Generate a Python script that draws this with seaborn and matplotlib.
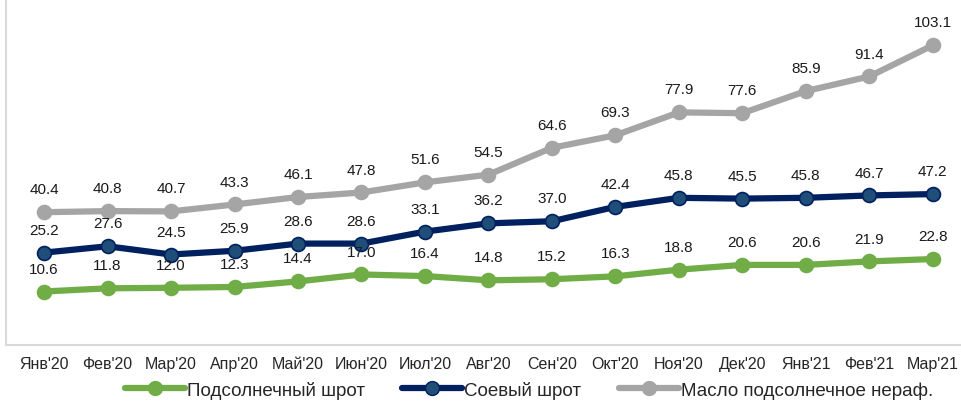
import matplotlib
matplotlib.use("Agg")
import matplotlib.pyplot as plt
import seaborn as sns
import pandas as pd
from matplotlib import font_manager

months = ["Янв'20", "Фев'20", "Мар'20", "Апр'20", "Май'20", "Июн'20", "Июл'20", "Авг'20",
          "Сен'20", "Окт'20", "Ноя'20", "Дек'20", "Янв'21", "Фев'21", "Мар'21"]
sunflower_meal = [10.6, 11.8, 12.0, 12.3, 14.4, 17.0, 16.4, 14.8, 15.2, 16.3, 18.8, 20.6, 20.6, 21.9, 22.8]
soy_meal = [25.2, 27.6, 24.5, 25.9, 28.6, 28.6, 33.1, 36.2, 37.0, 42.4, 45.8, 45.5, 45.8, 46.7, 47.2]
sunflower_oil = [40.4, 40.8, 40.7, 43.3, 46.1, 47.8, 51.6, 54.5, 64.6, 69.3, 77.9, 77.6, 85.9, 91.4, 103.1]
series_names = ["Подсолнечный шрот", "Соевый шрот", "Масло подсолнечное нераф."]

sns.set_theme(style="white")
names = {f.name for f in font_manager.fontManager.ttflist}
narrow = "Liberation Sans Narrow" if "Liberation Sans Narrow" in names else "Liberation Sans"
plt.rcParams['font.family'] = ['Liberation Sans', 'DejaVu Sans']

rows = []
for name, vals in zip(series_names, [sunflower_meal, soy_meal, sunflower_oil]):
    for i, (m, v) in enumerate(zip(months, vals)):
        rows.append({"idx": i, "month": m, "value": v, "series": name})
df = pd.DataFrame(rows)

colors = {series_names[0]: "#70AD47", series_names[1]: "#002060", series_names[2]: "#A5A5A5"}
mfc = {series_names[0]: "#70AD47", series_names[1]: "#1F4E79", series_names[2]: "#A5A5A5"}

fig = plt.figure(figsize=(9.62, 4.02), dpi=100)
ax = fig.add_axes([6/962, (402-346)/402, (962-6)/962, 346/402])

handles = []
for name in series_names:
    sub = df[df.series == name]
    sns.lineplot(data=sub, x="idx", y="value", ax=ax, color=colors[name], lw=4.5,
                 marker="o", markersize=10, markerfacecolor=mfc[name],
                 markeredgecolor=colors[name], markeredgewidth=1.2, legend=False)
    for i, v in zip(sub.idx, sub.value):
        ax.annotate(f"{v:.1f}", (i, v), xytext=(0, 16.5), textcoords="offset points",
                    ha="center", va="center", fontsize=11, color="#1a1a1a")
    h, = ax.plot([], [], color=colors[name], lw=4.5, marker="o", markersize=10,
                 markerfacecolor=mfc[name], markeredgecolor=colors[name])
    handles.append(h)

ax.set_xlim(-0.6, 14.46)
ax.set_ylim(-9.5, 120.5)
ax.set_xticks(range(len(months)))
ax.set_xticklabels(months, fontsize=11.5, family=[narrow, 'DejaVu Sans'])
ax.tick_params(axis='x', length=0, pad=8)
ax.set_yticks([])
ax.set_xlabel("")
ax.set_ylabel("")
for s in ["top", "right"]:
    ax.spines[s].set_visible(False)
ax.spines["bottom"].set_color("#D9D9D9")
ax.spines["bottom"].set_linewidth(1.5)
ax.spines["left"].set_color("#D9D9D9")
ax.spines["left"].set_linewidth(1.5)

fig.legend(handles, series_names, loc="center", bbox_to_anchor=(529/962, 1 - 391/402),
           ncol=3, frameon=False, handlelength=3.2, handletextpad=0.1,
           columnspacing=2.0, prop={'family': [narrow, 'DejaVu Sans'], 'size': 13.5})

fig.savefig("out.png", dpi=100)
